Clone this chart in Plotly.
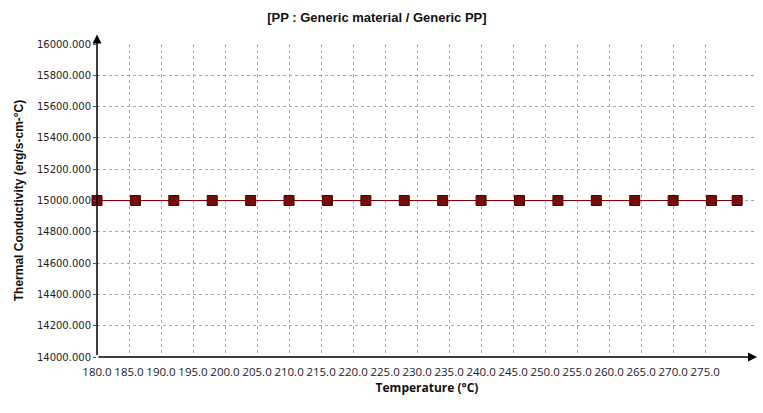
import plotly.graph_objects as go

temperature = [180, 186, 192, 198, 204, 210, 216, 222, 228, 234, 240, 246, 252, 258, 264, 270, 276, 280]
conductivity = [15000.0] * len(temperature)
x_ticks = [180.0 + 5 * i for i in range(20)]
y_ticks = [14000 + 200 * i for i in range(11)]

fig = go.Figure()
fig.add_trace(go.Scatter(
    x=temperature, y=conductivity, mode="lines+markers",
    line=dict(color="#8b0000", width=1.2),
    marker=dict(symbol="square", size=10, color="#760d0d", line=dict(color="#4a0000", width=1)),
    showlegend=False, cliponaxis=False,
))

fig.update_layout(
    width=763, height=413,
    margin=dict(l=97, r=6, t=44, b=56),
    paper_bgcolor="white", plot_bgcolor="white",
    title=dict(text="[PP : Generic material / Generic PP]", x=0.494, xanchor="center", y=0.958, yanchor="middle",
               font=dict(family="Liberation Sans, Arial", size=13, color="#111", weight="bold")),
    xaxis=dict(
        range=[180, 283.1], tickvals=x_ticks, ticktext=[f"{v:.1f}" for v in x_ticks],
        showgrid=True, gridcolor="#a8a8a8", griddash="3px,3px", gridwidth=1,
        showline=False, zeroline=False, ticks="", ticklabelstandoff=6,
        tickfont=dict(family="Open Sans, Noto Sans", size=11.5, color="#222"),
        title=dict(text="Temperature (°C)", font=dict(family="Open Sans, Noto Sans", size=12, color="#111", weight="bold"), standoff=6),
    ),
    yaxis=dict(
        range=[14000, 16000], tickvals=y_ticks, ticktext=[f"{v:.3f}" for v in y_ticks],
        showgrid=True, gridcolor="#a8a8a8", griddash="3px,3px", gridwidth=1,
        showline=False, zeroline=False, ticks="outside", ticklen=3, tickcolor="#555",
        tickfont=dict(family="DejaVu Sans, Tahoma", size=10, color="#222"),
        title=dict(text="Thermal Conductivity (erg/s-cm-°C)", font=dict(family="Liberation Sans, Arial", size=12, color="#111", weight="bold"), standoff=10),
    ),
)

# axis lines with arrowheads
fig.add_annotation(x=1.0, y=0, xref="paper", yref="paper", ax=-660, ay=0, axref="pixel", ayref="pixel",
                   showarrow=True, arrowhead=2, arrowsize=1.2, arrowwidth=1.5, arrowcolor="black", text="")
fig.add_annotation(x=0, y=1.03, xref="paper", yref="paper", ax=0, ay=322, axref="pixel", ayref="pixel",
                   showarrow=True, arrowhead=2, arrowsize=1.2, arrowwidth=1.5, arrowcolor="black", text="")

fig.write_html("out.html")
